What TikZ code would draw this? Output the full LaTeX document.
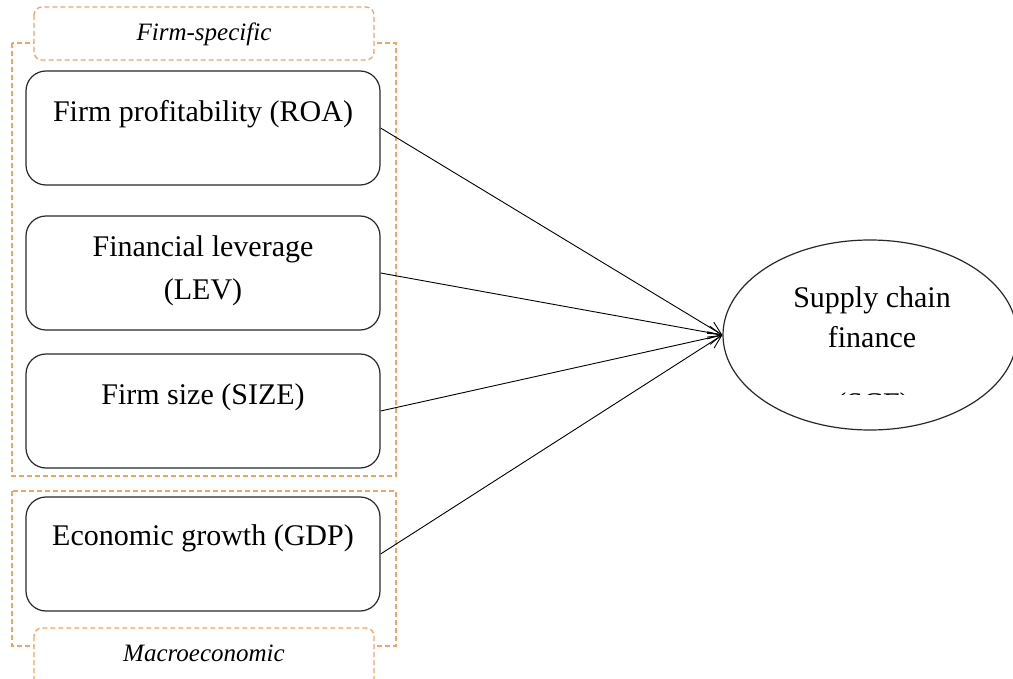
\documentclass[tikz,border=0pt]{standalone}
\usepackage{fontspec}
\setmainfont{Liberation Serif}
\usetikzlibrary{arrows.meta,shapes.geometric}
\definecolor{dashorange}{RGB}{241,164,104}
\definecolor{boxline}{RGB}{40,40,40}
\begin{document}
\begin{tikzpicture}[x=1pt,y=-1pt,
  grp/.style={draw=dashorange, dash pattern=on 5pt off 3pt, line width=1.3pt},
  lbl/.style={grp, fill=white, rounded corners=8pt},
  var/.style={draw=boxline, line width=1.2pt, rounded corners=20pt, minimum width=354pt, minimum height=114pt, inner sep=0pt},
  vtxt/.style={font=\fontsize{30}{43}\selectfont, align=center, inner sep=0pt},
  ltxt/.style={font=\fontsize{25}{30}\selectfont\itshape, inner sep=0pt},
  arr/.style={-{Straight Barb[length=13pt,width=13pt]}, line width=0.9pt},
  ell/.style={ellipse, draw=boxline, line width=1.2pt, minimum width=294pt, minimum height=190pt, inner sep=0pt}
]
\useasboundingbox (0,0) rectangle (1013,679);
\clip (0,0) rectangle (1013,679);
\fill[white] (0,0) rectangle (1013,679);
% groups
\draw[grp] (12,43) rectangle (396,476);
\draw[grp] (12,491) rectangle (396,646);
\draw[lbl] (34,7) rectangle (374,60);
\draw[lbl] (34,628) rectangle (374,720);
\node[ltxt] (lfirm) at (204,34) {Firm-specific};
\node[ltxt] (lmacro) at (204,653) {Macroeconomic};
% variable boxes
\node[var] (b1) at (203,128) {};
\node[var] (b2) at (203,273) {};
\node[var] (b3) at (203,411) {};
\node[var] (b4) at (203,554) {};
\node[vtxt] (t1) at (203,114) {Firm profitability (ROA)};
\node[vtxt] (t2) at (203,271) {Financial leverage\\(LEV)};
\node[vtxt] (t3) at (203,397) {Firm size (SIZE)};
\node[vtxt] (t4) at (203,538) {Economic growth (GDP)};
% outcome
\node[ell] (scf) at (870,335) {};
\node[vtxt, font=\fontsize{30}{40}\selectfont] (ts) at (872,317) {Supply chain\\finance};
\begin{scope}
\clip (700,300) rectangle (1013,394.5);
\node[vtxt, anchor=base] (tscf) at (873,413) {(SCF)};
\end{scope}
% arrows
\draw[arr] (b1.east) -- (scf.west);
\draw[arr] (b2.east) -- (scf.west);
\draw[arr] (b3.east) -- (scf.west);
\draw[arr] (b4.east) -- (scf.west);
\end{tikzpicture}
\end{document}
